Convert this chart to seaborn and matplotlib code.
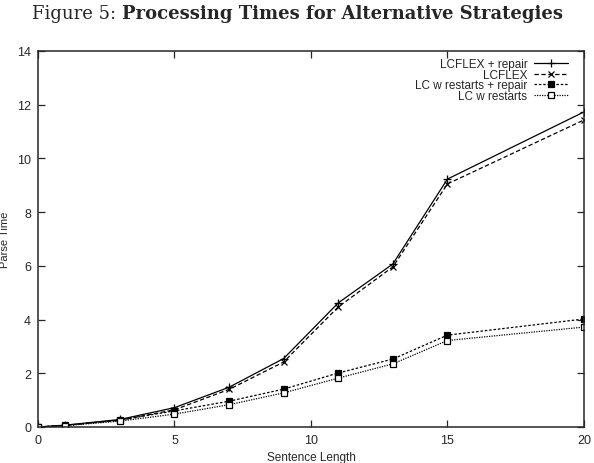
import matplotlib
matplotlib.use("Agg")
import matplotlib.pyplot as plt
import seaborn as sns
import pandas as pd

sentence_length = [0, 1, 3, 5, 7, 9, 11, 13, 15, 20]
lcflex_repair = [0.0, 0.07, 0.28, 0.72, 1.48, 2.55, 4.62, 6.07, 9.23, 11.73]
lcflex = [0.0, 0.06, 0.25, 0.64, 1.40, 2.42, 4.47, 5.96, 9.05, 11.43]
lc_restarts_repair = [0.0, 0.06, 0.26, 0.60, 0.96, 1.41, 2.01, 2.53, 3.42, 4.02]
lc_restarts = [0.0, 0.05, 0.22, 0.48, 0.83, 1.27, 1.82, 2.35, 3.22, 3.72]
labels = ["LCFLEX + repair", "LCFLEX", "LC w restarts + repair", "LC w restarts"]
x_ticks = [0, 5, 10, 15, 20]
y_ticks = [0, 2, 4, 6, 8, 10, 12, 14]

sns.set_style("ticks")
plt.rcParams["font.family"] = ["Liberation Sans", "DejaVu Sans"]

fig = plt.figure(figsize=(5.94, 4.64), dpi=100)
ax = fig.add_axes([0.064, 0.0776, 0.919, 0.8104])

series = [lcflex_repair, lcflex, lc_restarts_repair, lc_restarts]
styles = [
    dict(marker="+", linestyle="-", markersize=6, markerfacecolor="black"),
    dict(marker="x", linestyle=(0, (3.5, 2.0)), markersize=5, markerfacecolor="black"),
    dict(marker="s", linestyle=(0, (2.0, 1.5)), markersize=4.5, markerfacecolor="black"),
    dict(marker="s", linestyle=(0, (1.0, 1.0)), markersize=4.5, markerfacecolor="white"),
]
for vals, lab, st in zip(series, labels, styles):
    df = pd.DataFrame({"x": sentence_length, "y": vals})
    sns.lineplot(data=df, x="x", y="y", ax=ax, color="black", linewidth=0.9,
                 markeredgecolor="black", markeredgewidth=0.9, errorbar=None,
                 label=lab, **st)

ax.set_xlim(0, 20)
ax.set_ylim(0, 14)
ax.set_xticks(x_ticks)
ax.set_yticks(y_ticks)
ax.tick_params(direction="in", top=True, right=True, labelsize=9, length=5, width=0.9, pad=5)
for s in ax.spines.values():
    s.set_visible(True)
    s.set_linewidth(1.1)
ax.set_xlabel("Sentence Length", fontsize=8.5)
ax.set_ylabel("Parse Time", fontsize=8)
ax.xaxis.set_label_coords(0.5, -0.064)
ax.yaxis.set_label_coords(-0.052, 0.5)

h, l = ax.get_legend_handles_labels()
ax.legend(h, l, loc="upper right", markerfirst=False, frameon=False, fontsize=8.5,
          handlelength=2.8, handletextpad=0.6, labelspacing=-0.12,
          bbox_to_anchor=(0.983, 1.0), borderaxespad=0.2)

t1 = fig.text(0.054, 0.99, "Figure 5: ", fontsize=13, family="DejaVu Serif", va="top")
ax.annotate("Processing Times for Alternative Strategies", xy=(1, 0), xycoords=t1,
            va="bottom", ha="left", fontsize=13, family="DejaVu Serif", fontweight="bold",
            annotation_clip=False)

fig.savefig("out.png", dpi=100)
